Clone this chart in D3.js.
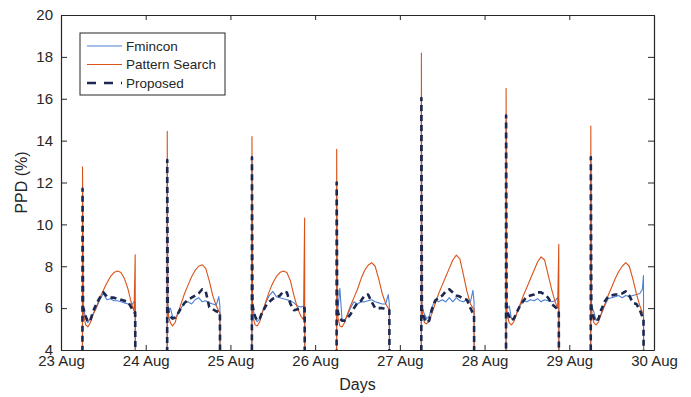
<!DOCTYPE html>
<html>
<head>
<meta charset="utf-8">
<script src="https://cdn.jsdelivr.net/npm/d3@7"></script>
<style>
  body { margin: 0; background: #fff; }
  text { font-family: "Liberation Sans", Arial, sans-serif; fill: #262626; }
</style>
</head>
<body>
<svg></svg>
<script>
// day labels on the x axis (one tick per midnight)
var dayLabels = ['23 Aug','24 Aug','25 Aug','26 Aug','27 Aug','28 Aug','29 Aug','30 Aug'];
var yTicks = [4, 6, 8, 10, 12, 14, 16, 18, 20];

// hours of the day at which each series is sampled (occupied period only)
var hours = [6.08, 6.1, 6.25, 6.5, 7, 7.6, 8.3, 9, 10, 11, 12, 13, 14, 15, 16, 17, 18, 19, 20, 20.7, 21.02, 21.05];

// PPD (%) per day. 4 = at / below the axis floor
var fminconDays = [
  [4, 11.5, 6.1, 5.9, 5.5, 5.3, 5.5, 5.7, 6.0, 6.4, 6.7, 6.4, 6.45, 6.35, 6.35, 6.3, 6.25, 6.2, 6.15, 6.3, 6.3, 4],
  [4, 12.9, 6.2, 5.9, 6.0, 5.6, 5.5, 5.7, 6.0, 6.25, 6.3, 6.2, 6.4, 6.5, 6.3, 6.35, 6.25, 6.2, 6.15, 6.55, 6.1, 4],
  [4, 13.0, 6.3, 5.9, 5.5, 5.35, 5.5, 5.8, 6.25, 6.6, 6.8, 6.55, 6.5, 6.45, 6.4, 6.35, 6.25, 6.1, 6.05, 6.1, 6.1, 4],
  [4, 11.8, 6.2, 6.0, 6.95, 5.5, 5.4, 5.6, 6.0, 6.3, 6.2, 6.3, 6.3, 6.35, 6.4, 6.3, 6.25, 6.2, 6.2, 6.65, 6.2, 4],
  [4, 15.8, 6.2, 5.9, 5.7, 5.5, 5.6, 6.0, 6.4, 6.3, 6.4, 6.3, 6.5, 6.3, 6.5, 6.35, 6.3, 6.4, 6.3, 6.85, 6.3, 4],
  [4, 15.0, 6.3, 6.0, 6.1, 5.5, 5.45, 5.7, 6.1, 6.35, 6.3, 6.4, 6.35, 6.45, 6.3, 6.4, 6.35, 6.3, 6.35, 6.5, 6.3, 4],
  [4, 13.0, 6.3, 6.0, 5.8, 5.4, 5.45, 5.7, 6.1, 6.45, 6.5, 6.55, 6.6, 6.5, 6.6, 6.55, 6.6, 6.65, 6.7, 6.9, 7.55, 4]
];
var patternDays = [
  [4, 12.75, 6.2, 5.6, 5.2, 5.1, 5.3, 5.65, 6.05, 6.5, 6.85, 7.2, 7.5, 7.7, 7.77, 7.7, 7.4, 6.9, 6.2, 5.85, 8.55, 4],
  [4, 14.45, 6.2, 5.6, 5.3, 5.15, 5.3, 5.7, 6.2, 6.7, 7.1, 7.5, 7.8, 8.0, 8.07, 7.9, 7.3, 6.6, 6.1, 5.85, 5.8, 4],
  [4, 14.2, 6.1, 5.5, 5.2, 5.15, 5.35, 5.75, 6.3, 6.8, 7.2, 7.5, 7.7, 7.77, 7.7, 7.3, 6.6, 6.0, 5.6, 5.45, 10.3, 4],
  [4, 13.58, 6.1, 5.5, 5.15, 5.1, 5.3, 5.65, 6.1, 6.5, 6.9, 7.4, 7.8, 8.05, 8.17, 8.0, 7.4, 6.7, 6.2, 6.0, 5.95, 4],
  [4, 18.18, 6.1, 5.6, 5.3, 5.25, 5.4, 5.7, 6.2, 6.7, 7.1, 7.5, 7.9, 8.3, 8.53, 8.35, 7.6, 6.8, 6.2, 6.0, 5.95, 4],
  [4, 16.5, 6.1, 5.6, 5.3, 5.2, 5.35, 5.7, 6.15, 6.6, 7.0, 7.4, 7.8, 8.2, 8.45, 8.3, 7.6, 6.9, 6.3, 6.0, 9.05, 4],
  [4, 14.7, 6.1, 5.6, 5.3, 5.2, 5.35, 5.7, 6.15, 6.6, 7.0, 7.4, 7.75, 8.0, 8.17, 8.0, 7.4, 6.7, 6.1, 5.8, 5.7, 4]
];
var proposedDays = [
  [4, 11.7, 6.05, 5.9, 5.6, 5.35, 5.4, 5.8, 6.2, 6.5, 6.75, 6.55, 6.5, 6.5, 6.45, 6.4, 6.35, 6.3, 6.0, 5.8, 5.8, 4],
  [4, 13.07, 6.0, 5.8, 5.6, 5.5, 5.55, 5.7, 6.0, 6.25, 6.4, 6.5, 6.6, 6.7, 6.9, 6.8, 6.05, 5.95, 5.85, 5.8, 5.8, 4],
  [4, 13.2, 6.2, 5.9, 5.6, 5.4, 5.5, 5.8, 6.1, 6.3, 6.45, 6.5, 6.6, 6.8, 6.75, 6.2, 5.9, 5.95, 6.0, 6.0, 6.0, 4],
  [4, 12.0, 6.0, 5.8, 5.5, 5.4, 5.4, 5.5, 5.7, 6.0, 6.25, 6.35, 6.6, 6.65, 6.3, 6.0, 6.0, 6.0, 5.95, 5.9, 5.9, 4],
  [4, 16.03, 6.0, 5.7, 5.5, 5.3, 5.4, 5.9, 6.35, 6.5, 6.6, 6.8, 6.9, 6.75, 6.6, 6.55, 6.45, 6.4, 6.0, 5.75, 5.7, 4],
  [4, 15.2, 6.1, 5.8, 5.6, 5.4, 5.5, 5.75, 6.1, 6.35, 6.55, 6.6, 6.65, 6.75, 6.75, 6.65, 6.5, 6.2, 6.05, 5.95, 5.9, 4],
  [4, 13.2, 6.1, 5.8, 5.5, 5.35, 5.5, 5.9, 6.3, 6.55, 6.6, 6.65, 6.65, 6.7, 6.8, 6.6, 6.25, 6.2, 5.9, 5.6, 5.55, 4]
];

var seriesNames = ['Fmincon', 'Pattern Search', 'Proposed'];
var seriesColors = ['#4f80d3', '#d95319', '#1c2850'];

var svgWidth = 691, svgHeight = 397;
var margin = { top: 15, right: 37, bottom: 47, left: 61 };
var innerWidth  = svgWidth  - margin.left - margin.right;
var innerHeight = svgHeight - margin.top  - margin.bottom;
var dashOn = 6, dashOff = 4;

var svg = d3.select('svg').attr('width', svgWidth).attr('height', svgHeight);
var g = svg.append('g').attr('transform', `translate(${margin.left},${margin.top})`);

var xScale = d3.scaleLinear().domain([0, dayLabels.length - 1]).range([0, innerWidth]);
var yScale = d3.scaleLinear().domain([4, 20]).range([innerHeight, 0]);

// turn one day's array into points
function dayPoints(vals, day) {
  return vals.map(function (v, i) { return [day + hours[i] / 24, v]; });
}

var line = d3.line()
  .x(function (d) { return xScale(d[0]); })
  .y(function (d) { return yScale(d[1]); });

var allSeries = [fminconDays, patternDays, proposedDays];
allSeries.forEach(function (days, s) {
  days.forEach(function (vals, day) {
    var pts = dayPoints(vals, day);
    var p = g.append('path')
      .attr('d', line(pts))
      .attr('fill', 'none')
      .attr('stroke', seriesColors[s])
      .attr('stroke-linejoin', 'round')
      .attr('stroke-width', s == 2 ? 2.6 : 1.1);
    if (s == 2) {
      // put the middle of a dash at the spike top so the way up and the way down
      // share the same gaps (otherwise the spike looks solid)
      var L = Math.hypot(xScale(pts[1][0]) - xScale(pts[0][0]), yScale(pts[1][1]) - yScale(pts[0][1]));
      var period = dashOn + dashOff;
      var off = (((dashOn / 2 - L) % period) + period) % period;
      p.attr('stroke-dasharray', dashOn + ',' + dashOff).attr('stroke-dashoffset', off);
    }
  });
});

// axes, MATLAB style: ticks inward, box with mirrored ticks
var axisColor = '#262626';
var xAxis = d3.axisBottom(xScale).tickValues(d3.range(dayLabels.length))
  .tickFormat(function (d) { return dayLabels[d]; }).tickSizeInner(-5).tickSizeOuter(0).tickPadding(8);
var yAxis = d3.axisLeft(yScale).tickValues(yTicks).tickSizeInner(-6).tickSizeOuter(0).tickPadding(8);
var xTop = d3.axisTop(xScale).tickValues(d3.range(dayLabels.length)).tickSizeInner(-5).tickSizeOuter(0);
var yRight = d3.axisRight(yScale).tickValues(yTicks).tickSizeInner(-6).tickSizeOuter(0);

var gx = g.append('g').attr('transform', `translate(0,${innerHeight})`).call(xAxis);
var gy = g.append('g').call(yAxis);
var gt = g.append('g').call(xTop);
var gr = g.append('g').attr('transform', `translate(${innerWidth},0)`).call(yRight);
gt.selectAll('.tick text').remove();
gr.selectAll('.tick text').remove();

[gx, gy, gt, gr].forEach(function (a) {
  a.select('.domain').attr('stroke', axisColor).attr('stroke-width', 1.2);
  a.selectAll('.tick line').attr('stroke', axisColor);
  a.selectAll('.tick text').attr('fill', axisColor)
    .style('font-family', '"Liberation Sans", Arial, sans-serif').style('font-size', '15px');
});
gx.selectAll('.tick text').attr('dy', '0.5em');

// axis titles
svg.append('text')
  .attr('x', margin.left + innerWidth / 2).attr('y', 390)
  .attr('text-anchor', 'middle').style('font-size', '16px').text('Days');
svg.append('text')
  .attr('transform', `translate(27,${margin.top + innerHeight / 2}) rotate(-90)`)
  .attr('text-anchor', 'middle').style('font-size', '16px').text('PPD (%)');

// legend
var lg = svg.append('g').attr('transform', 'translate(80,33)');
lg.append('rect').attr('width', 145).attr('height', 62)
  .attr('fill', '#fff').attr('stroke', axisColor).attr('stroke-width', 1);
seriesNames.forEach(function (name, i) {
  var yy = 13 + i * 18.5;
  var l = lg.append('line').attr('x1', 7).attr('x2', 42).attr('y1', yy).attr('y2', yy)
    .attr('stroke', seriesColors[i]).attr('stroke-width', i == 2 ? 2.6 : 1.1);
  if (i == 2) l.attr('stroke-dasharray', '9,8');
  lg.append('text').attr('x', 46).attr('y', yy).attr('dy', '0.35em')
    .style('font-size', '13.5px').text(name);
});
</script>
</body>
</html>
